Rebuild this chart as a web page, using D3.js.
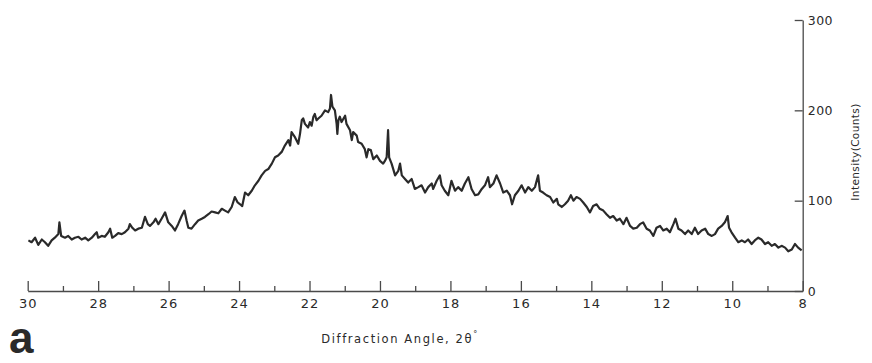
<!DOCTYPE html>
<html>
<head>
<meta charset="utf-8">
<script src="https://cdn.jsdelivr.net/npm/d3@7/dist/d3.min.js"></script>
<style>
  html, body { margin: 0; padding: 0; background: #fff; }
  svg { display: block; }
  .lbl { font-family: "DejaVu Sans", sans-serif; fill: #2a2a2a; }
</style>
</head>
<body>
<svg id="chart" width="872" height="363"></svg>
<script>
// Diffraction angle (2θ, degrees) and measured intensity (counts)
const twoTheta = [
  29.98, 29.89, 29.79, 29.70, 29.60, 29.51, 29.42, 29.32, 29.23, 29.13, 29.10, 29.05, 28.94, 28.85, 28.75,
  28.66, 28.56, 28.47, 28.37, 28.28, 28.18, 28.09, 28.04, 28.00, 27.90, 27.81, 27.71, 27.66, 27.60, 27.52,
  27.43, 27.33, 27.24, 27.14, 27.10, 27.03, 26.95, 26.86, 26.76, 26.67, 26.59, 26.53, 26.43, 26.37, 26.29,
  26.20, 26.10, 26.01, 25.91, 25.82, 25.73, 25.63, 25.55, 25.49, 25.44, 25.35, 25.25, 25.16, 25.06, 24.97,
  24.87, 24.78, 24.68, 24.59, 24.49, 24.40, 24.31, 24.21, 24.12, 24.04, 23.97, 23.91, 23.83, 23.74, 23.64,
  23.55, 23.45, 23.36, 23.26, 23.17, 23.07, 22.98, 22.89, 22.79, 22.70,
  22.60, 22.55, 22.51, 22.41, 22.32, 22.27, 22.22, 22.18, 22.13, 22.04, 21.99, 21.94, 21.89, 21.85, 21.80,
  21.75, 21.66, 21.56, 21.47, 21.42, 21.39, 21.35, 21.28, 21.23, 21.21, 21.18, 21.14, 21.09, 20.99, 20.95,
  20.85, 20.80, 20.76, 20.66, 20.62, 20.52, 20.43, 20.38, 20.33, 20.26, 20.19, 20.09, 20.00, 19.91, 19.86,
  19.81, 19.77, 19.74, 19.67, 19.57, 19.48, 19.43, 19.38, 19.29, 19.20, 19.10, 19.01, 18.91,
  18.82, 18.72, 18.63, 18.53, 18.49, 18.39, 18.30, 18.25, 18.16, 18.06, 17.97, 17.87, 17.78, 17.68, 17.59,
  17.49, 17.40, 17.30, 17.21, 17.11, 17.02, 16.93, 16.88, 16.78, 16.69, 16.59, 16.50, 16.40, 16.31, 16.25,
  16.17, 16.07, 15.98, 15.88, 15.79, 15.69, 15.60, 15.51, 15.46, 15.37, 15.27, 15.17,
  15.08, 14.98, 14.94, 14.84, 14.75, 14.66, 14.58, 14.51, 14.42, 14.32, 14.23, 14.13, 14.04, 13.95, 13.85,
  13.76, 13.66, 13.57, 13.47, 13.38, 13.28, 13.19, 13.09, 13.00, 12.90, 12.81, 12.71, 12.62, 12.53, 12.43,
  12.34, 12.24, 12.15, 12.05, 11.96, 11.86, 11.77, 11.67, 11.61, 11.53,
  11.44, 11.34, 11.25, 11.15, 11.06, 10.97, 10.87, 10.77, 10.68, 10.58, 10.49, 10.40, 10.30, 10.21, 10.13,
  10.09, 10.02, 9.92, 9.83, 9.73, 9.64, 9.55, 9.45, 9.36, 9.26, 9.17, 9.07, 8.98, 8.88, 8.79,
  8.69, 8.60, 8.50, 8.41, 8.31, 8.22, 8.13, 8.03
];
const counts = [
  56, 54, 59, 51, 57, 54, 50, 56, 59, 63, 76, 61, 59, 61, 57,
  59, 60, 57, 59, 56, 59, 63, 65, 59, 61, 60, 65, 69, 59, 61,
  64, 63, 65, 69, 74, 70, 67, 69, 70, 82, 74, 72, 76, 80, 74,
  80, 87, 76, 72, 67, 74, 83, 89, 78, 70, 69, 74, 78, 80, 82,
  85, 88, 87, 86, 91, 89, 87, 93, 104, 98, 96, 94, 109, 106, 111,
  117, 122, 128, 133, 135, 141, 148, 150, 154, 161,
  167, 161, 176, 170, 163, 174, 189, 191, 185, 181, 187, 183, 193, 196, 189,
  191, 194, 200, 198, 202, 217, 204, 200, 185, 174, 189, 193, 187, 194, 185,
  178, 167, 176, 172, 165, 163, 157, 148, 157, 156, 146, 150, 144, 141, 144,
  148, 178, 148, 141, 128, 133, 141, 128, 124, 120, 124, 113, 115,
  117, 109, 115, 119, 113, 122, 128, 117, 111, 106, 122, 111, 115, 111, 119,
  126, 113, 106, 107, 113, 117, 126, 115, 119, 128, 119, 109, 111, 106, 96,
  106, 111, 117, 109, 115, 111, 115, 128, 111, 109, 106, 104,
  98, 102, 96, 93, 96, 100, 106, 100, 104, 102, 98, 93, 87, 94, 96,
  91, 89, 85, 81, 83, 78, 80, 74, 81, 72, 69, 70, 74, 76, 69,
  67, 61, 70, 72, 67, 69, 65, 74, 80, 69,
  67, 63, 67, 63, 70, 63, 67, 69, 63, 61, 63, 69, 72, 76, 83,
  70, 65, 59, 54, 56, 54, 57, 52, 56, 59, 57, 52, 54, 50, 52,
  48, 50, 48, 44, 46, 52, 48, 45
];

const xMajorTicks = [30, 28, 26, 24, 22, 20, 18, 16, 14, 12, 10, 8];
const xMinorTicks = [29, 27, 25, 23, 21, 19, 17, 15, 13, 11, 9];
const yTicks = [0, 100, 200, 300];

const xTitle = "Diffraction Angle, 2θ";
const yTitle = "Intensity(Counts)";
const panelLetter = "a";

const svg = d3.select("#chart");

const x = d3.scaleLinear().domain([30, 8]).range([27.7, 802.7]);
const y = d3.scaleLinear().domain([0, 300]).range([291, 20]);

const axisColor = "#4a4a4a";

// x axis: ticks point up into the plot, labels below
const gx = svg.append("g").attr("transform", `translate(0,${y(0)})`)
  .call(d3.axisBottom(x).tickValues(xMajorTicks).tickSizeInner(-10).tickSizeOuter(0)
    .tickPadding(8).tickFormat(d3.format("d")));
svg.append("g").attr("transform", `translate(0,${y(0)})`)
  .call(d3.axisBottom(x).tickValues(xMinorTicks).tickSizeInner(-5).tickSizeOuter(0).tickFormat(""))
  .call(g => g.select(".domain").remove());

// y axis on the right: ticks point left, labels to the right
const gy = svg.append("g").attr("transform", `translate(${x(8)},0)`)
  .call(d3.axisRight(y).tickValues(yTicks).tickSizeInner(-8).tickSizeOuter(0)
    .tickPadding(5).tickFormat(d3.format("d")));

svg.selectAll(".domain").attr("stroke", axisColor).attr("stroke-width", 1.3);
svg.selectAll(".tick line").attr("stroke", axisColor).attr("stroke-width", 1.3);
gx.selectAll(".tick text").attr("class", "lbl").attr("font-size", 13).attr("letter-spacing", 1);
gy.selectAll(".tick text").attr("class", "lbl").attr("font-size", 12.5).attr("letter-spacing", 0.5)
  .attr("text-anchor", "start");

// diffraction trace
const line = d3.line()
  .x((d, i) => x(twoTheta[i]))
  .y(d => y(d));
svg.append("path")
  .datum(counts)
  .attr("d", line)
  .attr("fill", "none")
  .attr("stroke", "#2a2a2a")
  .attr("stroke-width", 2.2)
  .attr("stroke-linejoin", "round");

// axis titles
const xt = svg.append("text").attr("class", "lbl")
  .attr("x", 400).attr("y", 343)
  .attr("text-anchor", "middle")
  .attr("font-size", 11.5).attr("letter-spacing", 1.6);
xt.append("tspan").text(xTitle);
xt.append("tspan").attr("dy", -6).attr("font-size", 8).text("°");

svg.append("text").attr("class", "lbl")
  .attr("transform", "translate(859,152) rotate(-90)")
  .attr("text-anchor", "middle")
  .attr("font-size", 10.5).attr("letter-spacing", 0.4)
  .text(yTitle);

svg.append("text")
  .attr("x", 9).attr("y", 353)
  .attr("font-family", "Liberation Sans, Arial, sans-serif")
  .attr("font-weight", "bold")
  .attr("font-size", 44)
  .attr("fill", "#2a2a2a")
  .text(panelLetter);
</script>
</body>
</html>
